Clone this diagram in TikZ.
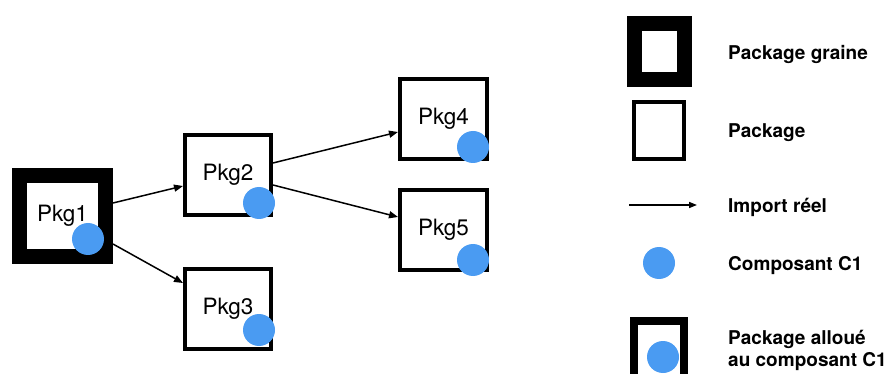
\documentclass[tikz,border=0pt]{standalone}
\usepackage{fontspec}
\setmainfont{TeX Gyre Heros}
\usetikzlibrary{arrows.meta,positioning}
\definecolor{compblue}{RGB}{74,155,242}

\tikzset{
  pkg/.style={draw, line width=4pt, minimum width=86pt, minimum height=80pt, inner sep=0pt, font=\fontsize{22.5}{26}\selectfont},
  seedpkg/.style={pkg, line width=15pt, minimum width=86pt, minimum height=81pt},
  comp/.style={circle, fill=compblue, minimum size=32pt, inner sep=0pt},
  import/.style={-{Triangle[length=9pt,width=7pt]}, line width=1.5pt},
  legtext/.style={anchor=base west, inner sep=0pt, font=\bfseries\fontsize{19}{22}\selectfont, align=left},
}

\begin{document}
\begin{tikzpicture}[x=1pt, y=-1pt]
    \useasboundingbox (0,0) rectangle (889,374);
    \clip (0,0) rectangle (889,374);

    % Packages
    \node[seedpkg] (pkg1) at (62.5,216) {Pkg1};
    \node[pkg] (pkg2) at (228,175) {Pkg2};
    \node[pkg] (pkg3) at (228,309) {Pkg3};
    \node[pkg, minimum width=87pt] (pkg4) at (443.5,119) {Pkg4};
    \node[pkg, minimum width=87pt] (pkg5) at (443.5,230) {Pkg5};

    % Component C1
    \node[comp] (c1a) at (88,239) {};
    \node[comp] (c1b) at (259,203) {};
    \node[comp] (c1c) at (259,330) {};
    \node[comp] (c1d) at (473,147) {};
    \node[comp] (c1e) at (473,260) {};

    % Imports
    \draw[import] ([yshift=13pt]pkg1.east) -- ([yshift=-11pt]pkg2.west);
    \draw[import] ([yshift=-28pt]pkg1.east) -- ([yshift=26pt]pkg3.west);
    \draw[import] ([yshift=12pt]pkg2.east) -- ([yshift=-13pt]pkg4.west);
    \draw[import] ([yshift=-10pt]pkg2.east) -- ([yshift=13pt]pkg5.west);

    % Legend
    \node[seedpkg, minimum width=50pt, minimum height=56pt] (legseed) at (659.5,51.5) {};
    \node[pkg, minimum width=50pt, minimum height=57pt] (legpkg) at (659,130.5) {};
    \coordinate (legfrom) at (629,205);
    \coordinate (legto) at (697,205);
    \draw[import, -{Triangle[length=8pt,width=6pt]}] (legfrom) -- (legto);
    \node[comp] (legcomp) at (659,263) {};
    \node[pkg, line width=8pt, minimum width=50pt, minimum height=57pt] (legalloc) at (659,349.5) {};
    \node[comp] (legalloccomp) at (663,357) {};

    \node[legtext] (txtseed) at (728,60) {Package graine};
    \node[legtext] (txtpkg) at (728,137.5) {Package};
    \node[legtext] (txtimport) at (728,213) {Import réel};
    \node[legtext] (txtcomp) at (728,270) {Composant C1};
    \node[legtext] (txtalloc) at (728,366) {Package alloué\\au composant C1};
\end{tikzpicture}
\end{document}
